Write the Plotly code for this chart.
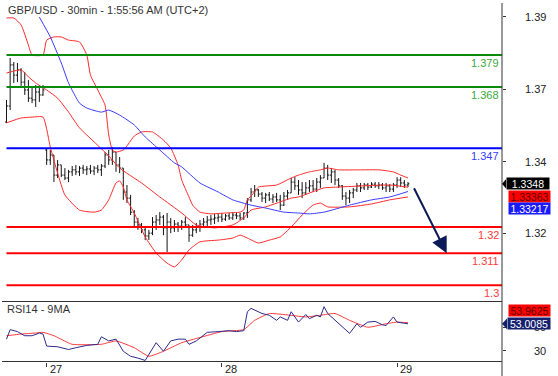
import plotly.graph_objects as go

# ---------------- data ----------------
bar_open = [1.3560, 1.3615, 1.3756, 1.3721, 1.3739, 1.3697, 1.3670, 1.3642, 1.3636, 1.3663,
            1.3653, 1.3464, 1.3430, 1.3447, 1.3378, 1.3413, 1.3378, 1.3368, 1.3389, 1.3396,
            1.3389, 1.3402, 1.3396, 1.3399, 1.3392, 1.3402, 1.3396, 1.3409, 1.3447, 1.3430,
            1.3457, 1.3413, 1.3402, 1.3320, 1.3299, 1.3251, 1.3217, 1.3207, 1.3190, 1.3169,
            1.3179, 1.3217, 1.3224, 1.3234, 1.3197, 1.3217, 1.3197, 1.3210, 1.3203, 1.3217,
            1.3207, 1.3172, 1.3190, 1.3200, 1.3210, 1.3217, 1.3224, 1.3227, 1.3231, 1.3234,
            1.3227, 1.3238, 1.3231, 1.3241, 1.3238, 1.3231, 1.3248, 1.3293, 1.3320, 1.3327,
            1.3313, 1.3299, 1.3310, 1.3296, 1.3303, 1.3293, 1.3275, 1.3306, 1.3317, 1.3354,
            1.3341, 1.3327, 1.3317, 1.3334, 1.3341, 1.3330, 1.3354, 1.3368, 1.3402, 1.3378,
            1.3389, 1.3361, 1.3341, 1.3306, 1.3299, 1.3317, 1.3327, 1.3341, 1.3334, 1.3344,
            1.3337, 1.3347, 1.3341, 1.3344, 1.3334, 1.3341, 1.3330, 1.3344, 1.3361, 1.3351,
            1.3344]
bar_high = [1.3636, 1.3780, 1.3766, 1.3763, 1.3745, 1.3732, 1.3704, 1.3677, 1.3687, 1.3687,
            1.3687, 1.3471, 1.3464, 1.3447, 1.3430, 1.3413, 1.3402, 1.3396, 1.3409, 1.3413,
            1.3409, 1.3413, 1.3409, 1.3413, 1.3409, 1.3413, 1.3416, 1.3457, 1.3464, 1.3474,
            1.3457, 1.3440, 1.3402, 1.3344, 1.3310, 1.3258, 1.3231, 1.3214, 1.3197, 1.3190,
            1.3234, 1.3241, 1.3251, 1.3241, 1.3248, 1.3231, 1.3224, 1.3217, 1.3224, 1.3234,
            1.3207, 1.3207, 1.3214, 1.3224, 1.3231, 1.3238, 1.3241, 1.3245, 1.3245, 1.3248,
            1.3245, 1.3248, 1.3251, 1.3251, 1.3248, 1.3251, 1.3299, 1.3334, 1.3344, 1.3330,
            1.3320, 1.3317, 1.3320, 1.3313, 1.3317, 1.3310, 1.3320, 1.3327, 1.3368, 1.3371,
            1.3361, 1.3354, 1.3354, 1.3361, 1.3361, 1.3368, 1.3378, 1.3420, 1.3413, 1.3402,
            1.3396, 1.3368, 1.3344, 1.3320, 1.3327, 1.3334, 1.3351, 1.3351, 1.3351, 1.3351,
            1.3354, 1.3354, 1.3354, 1.3351, 1.3351, 1.3347, 1.3351, 1.3371, 1.3371, 1.3361,
            1.3354]
bar_low = [1.3557, 1.3601, 1.3694, 1.3697, 1.3684, 1.3653, 1.3629, 1.3625, 1.3612, 1.3629,
           1.3650, 1.3413, 1.3413, 1.3354, 1.3368, 1.3371, 1.3361, 1.3354, 1.3375, 1.3378,
           1.3375, 1.3382, 1.3378, 1.3382, 1.3378, 1.3385, 1.3375, 1.3402, 1.3413, 1.3413,
           1.3389, 1.3385, 1.3293, 1.3282, 1.3241, 1.3197, 1.3190, 1.3179, 1.3155, 1.3155,
           1.3172, 1.3190, 1.3207, 1.3172, 1.3114, 1.3179, 1.3183, 1.3183, 1.3190, 1.3197,
           1.3149, 1.3166, 1.3179, 1.3183, 1.3197, 1.3200, 1.3207, 1.3210, 1.3217, 1.3217,
           1.3221, 1.3224, 1.3224, 1.3227, 1.3224, 1.3224, 1.3231, 1.3286, 1.3303, 1.3303,
           1.3286, 1.3282, 1.3289, 1.3282, 1.3286, 1.3258, 1.3272, 1.3293, 1.3317, 1.3327,
           1.3310, 1.3299, 1.3310, 1.3320, 1.3320, 1.3320, 1.3334, 1.3368, 1.3361, 1.3351,
           1.3344, 1.3334, 1.3293, 1.3275, 1.3282, 1.3299, 1.3320, 1.3320, 1.3327, 1.3327,
           1.3334, 1.3334, 1.3330, 1.3327, 1.3320, 1.3320, 1.3320, 1.3334, 1.3337, 1.3334,
           1.3337]
bar_close = [1.3615, 1.3756, 1.3721, 1.3739, 1.3697, 1.3670, 1.3642, 1.3636, 1.3663, 1.3653,
             1.3670, 1.3430, 1.3447, 1.3378, 1.3413, 1.3378, 1.3368, 1.3389, 1.3396, 1.3389,
             1.3402, 1.3396, 1.3399, 1.3392, 1.3402, 1.3396, 1.3409, 1.3447, 1.3430, 1.3457,
             1.3413, 1.3402, 1.3320, 1.3299, 1.3251, 1.3217, 1.3207, 1.3190, 1.3169, 1.3179,
             1.3217, 1.3224, 1.3234, 1.3197, 1.3217, 1.3197, 1.3210, 1.3203, 1.3217, 1.3207,
             1.3172, 1.3190, 1.3200, 1.3210, 1.3217, 1.3224, 1.3227, 1.3231, 1.3234, 1.3227,
             1.3238, 1.3231, 1.3241, 1.3238, 1.3231, 1.3248, 1.3293, 1.3320, 1.3327, 1.3313,
             1.3299, 1.3310, 1.3296, 1.3303, 1.3293, 1.3275, 1.3306, 1.3317, 1.3354, 1.3341,
             1.3327, 1.3317, 1.3334, 1.3341, 1.3330, 1.3354, 1.3368, 1.3402, 1.3378, 1.3389,
             1.3361, 1.3341, 1.3306, 1.3299, 1.3317, 1.3327, 1.3341, 1.3334, 1.3344, 1.3337,
             1.3347, 1.3341, 1.3344, 1.3334, 1.3341, 1.3330, 1.3344, 1.3361, 1.3351, 1.3344,
             1.3348]

# Bollinger bands (upper / middle / lower) read at bar indices
ub_idx = [0, 2, 4, 6, 7, 10, 11, 13, 15, 17, 20, 22, 23, 25, 27, 28, 29, 30, 32, 33, 35, 37, 40, 43, 45,
          47, 48, 50, 51, 53, 56, 60, 64, 65, 66, 68, 69, 74, 78, 80, 83, 86, 88, 91, 97, 102, 106, 108, 110]
ub_val = [1.3917, 1.3917, 1.3893, 1.3824, 1.3790, 1.3790, 1.3841, 1.3852, 1.3852, 1.3841, 1.3835, 1.3790,
          1.3721, 1.3670, 1.3618, 1.3516, 1.3464, 1.3457, 1.3464, 1.3478, 1.3512, 1.3526, 1.3526, 1.3498,
          1.3471, 1.3413, 1.3361, 1.3303, 1.3275, 1.3251, 1.3245, 1.3248, 1.3251, 1.3258, 1.3293, 1.3320,
          1.3337, 1.3344, 1.3368, 1.3378, 1.3389, 1.3396, 1.3402, 1.3396, 1.3396, 1.3396, 1.3389, 1.3378, 1.3368]
mb_idx = [0, 4, 6, 8, 11, 14, 17, 20, 24, 28, 31, 37, 42, 48, 52, 57, 62, 65, 67, 71, 78, 80, 87, 91, 105, 110]
mb_val = [1.3728, 1.3739, 1.3715, 1.3694, 1.3670, 1.3642, 1.3594, 1.3540, 1.3492, 1.3444, 1.3402, 1.3351,
          1.3303, 1.3248, 1.3207, 1.3197, 1.3207, 1.3231, 1.3258, 1.3269, 1.3299, 1.3303, 1.3334, 1.3337,
          1.3344, 1.33363]
lb_idx = [0, 4, 7, 10, 12, 14, 16, 20, 24, 26, 28, 30, 31, 32, 33, 35, 38, 41, 44, 46, 48, 50, 53, 58, 62,
          64, 66, 69, 72, 75, 78, 81, 84, 86, 88, 94, 100, 105, 110]
lb_val = [1.3557, 1.3574, 1.3577, 1.3577, 1.3474, 1.3385, 1.3310, 1.3258, 1.3251, 1.3258, 1.3293, 1.3351,
          1.3358, 1.3337, 1.3293, 1.3248, 1.3166, 1.3111, 1.3076, 1.3063, 1.3087, 1.3121, 1.3149, 1.3155,
          1.3162, 1.3172, 1.3162, 1.3145, 1.3155, 1.3166, 1.3200, 1.3241, 1.3275, 1.3282, 1.3269, 1.3269,
          1.3279, 1.3293, 1.3303]
# blue moving average
ma_idx = [9, 12, 15, 17, 20, 22, 26, 28, 31, 35, 38, 42, 46, 48, 53, 58, 62, 67, 71, 76, 80, 83, 87, 94,
          100, 105, 110]
ma_val = [1.3920, 1.3852, 1.3763, 1.3694, 1.3625, 1.3608, 1.3594, 1.3601, 1.3584, 1.3550, 1.3509, 1.3464,
          1.3420, 1.3406, 1.3351, 1.3320, 1.3293, 1.3275, 1.3265, 1.3251, 1.3248, 1.3245, 1.3251, 1.3275,
          1.3293, 1.3303, 1.33217]

# RSI14 and its 9MA
rsi_idx = [0, 1, 3, 5, 7, 9, 10, 11, 14, 17, 19, 22, 25, 26, 28, 30, 32, 34, 36, 38, 41, 43, 45, 47, 49,
           50, 52, 55, 58, 61, 63, 65, 66, 67, 70, 72, 74, 75, 77, 78, 80, 82, 83, 85, 86, 87, 88, 90, 92,
           94, 96, 97, 99, 101, 103, 104, 106, 107, 109, 110]
rsi_val = [40.0, 48.1, 46.4, 42.9, 42.9, 45.2, 44.3, 34.1, 33.5, 31.2, 32.7, 34.7, 35.6, 42.0, 38.5, 40.0,
           29.7, 25.4, 23.9, 21.9, 37.0, 29.7, 38.5, 40.0, 40.0, 35.6, 38.5, 45.8, 46.4, 47.2, 46.4, 47.2,
           63.3, 66.2, 61.8, 60.3, 56.0, 58.9, 56.0, 63.3, 54.5, 60.9, 57.4, 60.3, 58.9, 67.6, 61.8, 56.0,
           50.1, 44.9, 53.1, 50.1, 54.5, 55.1, 52.2, 51.6, 58.9, 54.5, 53.5, 53.0085]
rsi_ma_idx = [0, 4, 8, 10, 13, 18, 26, 30, 35, 39, 43, 48, 53, 59, 65, 68, 72, 76, 82, 86, 90, 94, 99,
              104, 107, 110]
rsi_ma_val = [42.9, 44.3, 45.2, 45.8, 42.9, 35.6, 35.6, 38.5, 32.7, 25.4, 29.7, 37.0, 41.4, 46.4, 48.1,
              56.0, 61.8, 60.9, 58.9, 60.3, 61.8, 56.0, 50.1, 53.1, 54.5, 53.9625]

levels = [1.379, 1.368, 1.347, 1.32, 1.311, 1.3]
level_text = ["1.379", "1.368", "1.347", "1.32", "1.311", "1.3"]
level_kind = ["res", "res", "pivot", "sup", "sup", "sup"]

price_ticks = [1.3921, 1.3673, 1.3424, 1.3178]
price_tick_text = ["1.39", "1.37", "1.34", "1.32"]
rsi_ticks = [30, 50]
rsi_tick_text = ["30", "50"]
day_idx = [11, 59, 107]
day_text = ["27", "28", "29"]

target_start = (111.45, 1.3338)
target_end = (120.6, 1.311)

title_text = "GBP/USD - 30min - 1:55:56 AM (UTC+2)"

# ---------------- figure ----------------
W, H = 558, 376
FONT = "Arial, Liberation Sans, sans-serif"


def px(x):
    return x / W


def py(y):
    return 1 - y / H


X_RIGHT = (502 - 6.5) / 3.65
X_LEFT = -6.5 / 3.65
idx = list(range(len(bar_close)))

fig = go.Figure()

band_line = dict(color="#ff2a2a", width=1, shape="spline", smoothing=0.5)
for xs, ys in [(ub_idx, ub_val), (mb_idx, mb_val), (lb_idx, lb_val)]:
    fig.add_trace(go.Scatter(x=xs, y=ys, mode="lines", line=band_line,
                             xaxis="x", yaxis="y", hoverinfo="skip", showlegend=False))
fig.add_trace(go.Scatter(x=ma_idx, y=ma_val, mode="lines",
                         line=dict(color="#3a3aff", width=1, shape="spline", smoothing=0.5),
                         xaxis="x", yaxis="y", hoverinfo="skip", showlegend=False))

fig.add_trace(go.Ohlc(x=idx, open=bar_open, high=bar_high, low=bar_low, close=bar_close,
                      increasing=dict(line=dict(color="#151515", width=1)),
                      decreasing=dict(line=dict(color="#151515", width=1)),
                      tickwidth=0.4, xaxis="x", yaxis="y", hoverinfo="skip", showlegend=False))

fig.add_trace(go.Scatter(x=rsi_ma_idx, y=rsi_ma_val, mode="lines",
                         line=dict(color="#ff3b3b", width=1, shape="spline", smoothing=0.4),
                         xaxis="x2", yaxis="y2", hoverinfo="skip", showlegend=False))
fig.add_trace(go.Scatter(x=rsi_idx, y=rsi_val, mode="lines",
                         line=dict(color="#2b2b8c", width=1),
                         xaxis="x2", yaxis="y2", hoverinfo="skip", showlegend=False))

shapes = []
level_color = {"res": "#0a8a0a", "pivot": "#0000ff", "sup": "#ff0000"}
label_color = {"res": "#3aa83a", "pivot": "#3a3aff", "sup": "#ff3a3a"}
for lv, kind in zip(levels, level_kind):
    shapes.append(dict(type="line", xref="x", yref="y", x0=0, x1=X_RIGHT, y0=lv, y1=lv,
                       line=dict(color=level_color[kind], width=2)))
# right axis line
shapes.append(dict(type="line", xref="paper", yref="paper", x0=px(502), x1=px(502),
                   y0=0, y1=py(3), line=dict(color="#333333", width=1)))
# RSI panel borders
for yy in [0, 1]:
    shapes.append(dict(type="line", xref="paper", yref="y2 domain", x0=px(2), x1=px(502),
                       y0=yy, y1=yy, line=dict(color="#333333", width=1)))

last_close = bar_close[-1]
ph = 4.6 / 2915
shapes.append(dict(type="path", xref="paper", yref="y",
                   path=f"M {px(502)},{last_close} L {px(506)},{last_close + ph} "
                        f"L {px(506)},{last_close - ph} Z",
                   fillcolor="#000000", line=dict(width=0)))
rsi_last = rsi_val[-1]
rh = 5.3 * 51 / 60
shapes.append(dict(type="path", xref="paper", yref="y2",
                   path=f"M {px(502)},{rsi_last} L {px(507)},{rsi_last + rh} "
                        f"L {px(507)},{rsi_last - rh} Z",
                   fillcolor="#14206e", line=dict(width=0)))

ann = []
ann.append(dict(text=title_text, xref="paper", yref="paper", x=px(6), y=py(10),
                xanchor="left", yanchor="middle", showarrow=False,
                font=dict(family=FONT, size=11, color="#333333")))
ann.append(dict(text="RSI14 - 9MA", xref="paper", yref="paper", x=px(5), y=py(308.5),
                xanchor="left", yanchor="middle", showarrow=False,
                font=dict(family=FONT, size=11, color="#333333")))
for lv, t, kind in zip(levels, level_text, level_kind):
    ann.append(dict(text=t, xref="paper", yref="y", x=px(501), y=lv, xanchor="right",
                    yanchor="top", yshift=0, showarrow=False,
                    font=dict(family=FONT, size=11, color=label_color[kind])))
for v, t in zip(price_ticks, price_tick_text):
    ann.append(dict(text=t, xref="paper", yref="y", x=px(548), y=v, xanchor="right",
                    yanchor="middle", showarrow=False,
                    font=dict(family=FONT, size=11, color="#222222")))
for v, t in zip(rsi_ticks, rsi_tick_text):
    ann.append(dict(text=t, xref="paper", yref="y2", x=px(548), y=v, xanchor="right",
                    yanchor="middle", showarrow=False,
                    font=dict(family=FONT, size=11, color="#222222")))
for d, t in zip(day_idx, day_text):
    ann.append(dict(text=t, xref="x2", yref="paper", x=d, y=py(368.5), xanchor="left",
                    yanchor="middle", xshift=1, showarrow=False,
                    font=dict(family=FONT, size=11, color="#222222")))

box_common = dict(xref="paper", xanchor="left", yanchor="middle", showarrow=False,
                  height=9, borderpad=1, align="center")
box_font = 10.5
ann.append(dict(text="1.3348", yref="y", x=px(505.5), y=last_close, bgcolor="#000000", width=40,
                font=dict(family=FONT, size=box_font, color="#ffffff"), **box_common))
ann.append(dict(text="1.33363", yref="y", x=px(507.5), y=mb_val[-1], yshift=-9.5, bgcolor="#ff0000",
                width=39, font=dict(family=FONT, size=box_font, color="#5a0000"), **box_common))
ann.append(dict(text="1.33217", yref="y", x=px(507.5), y=ma_val[-1], yshift=-16.5, bgcolor="#1a1aff",
                width=39, font=dict(family=FONT, size=box_font, color="#ffffff"), **box_common))
ann.append(dict(text="53.9625", yref="y2", x=px(507.5), y=rsi_ma_val[-1], yshift=12.5, bgcolor="#ff0000",
                width=39, font=dict(family=FONT, size=box_font, color="#5a0000"), **box_common))
ann.append(dict(text="53.0085", yref="y2", x=px(506.5), y=rsi_last, bgcolor="#14206e",
                width=40, font=dict(family=FONT, size=box_font, color="#ffffff"), **box_common))

ann.append(dict(text="", xref="x", yref="y", x=target_end[0], y=target_end[1],
                axref="x", ayref="y", ax=target_start[0], ay=target_start[1],
                showarrow=True, arrowhead=2, arrowsize=1.6, arrowwidth=2, arrowcolor="#0c1a5a"))

axis_common = dict(showgrid=False, zeroline=False, showline=False)
fig.update_layout(
    width=W, height=H, margin=dict(l=0, r=0, t=0, b=0),
    paper_bgcolor="#ffffff", plot_bgcolor="#ffffff", showlegend=False,
    hovermode=False,
    xaxis=dict(domain=[0, px(502)], range=[X_LEFT, X_RIGHT], anchor="y",
               showticklabels=False, ticks="", rangeslider=dict(visible=False), **axis_common),
    xaxis2=dict(domain=[0, px(502)], range=[X_LEFT, X_RIGHT], anchor="y2",
                tickvals=day_idx, ticks="outside", ticklen=4, tickcolor="#333333",
                showticklabels=False, rangeslider=dict(visible=False), **axis_common),
    yaxis=dict(domain=[py(297), py(3)], range=[1.379 - 242 / 2915, 1.379 + 52 / 2915],
               anchor="x", side="right", tickvals=price_ticks, ticks="outside", ticklen=3,
               tickcolor="#333333", showticklabels=False, **axis_common),
    yaxis2=dict(domain=[py(361.5), py(301.5)], range=[21, 72], anchor="x2", side="right",
                tickvals=rsi_ticks, ticks="outside", ticklen=3, tickcolor="#333333",
                showticklabels=False, **axis_common),
    shapes=shapes, annotations=ann,
    font=dict(family=FONT, size=11, color="#222222"),
)

fig.write_html("out.html", config={"displayModeBar": False},
               post_script="document.body.style.margin='0';document.body.style.padding='0';"
                           "document.documentElement.style.overflow='hidden';")
